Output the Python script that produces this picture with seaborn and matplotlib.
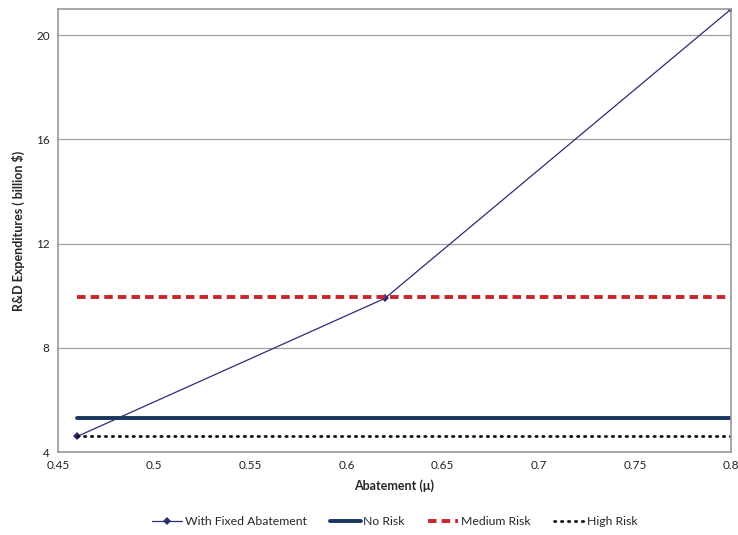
import matplotlib
matplotlib.use("Agg")
import matplotlib.pyplot as plt
import seaborn as sns
import pandas as pd

abatement = [0.46, 0.62, 0.80]
fixed_abatement = [4.6, 9.9, 21.0]
no_risk = [5.3, 5.3, 5.3]
medium_risk = [9.95, 9.95, 9.95]
high_risk = [4.6, 4.6, 4.6]
series_names = ["With Fixed Abatement", "No Risk", "Medium Risk", "High Risk"]

sns.set_style("white")
plt.rcParams['font.family'] = ['Lato', 'DejaVu Sans']

df = pd.DataFrame({
    "x": abatement * 4,
    "y": fixed_abatement + no_risk + medium_risk + high_risk,
    "series": sum([[n] * len(abatement) for n in series_names], []),
})

fig = plt.figure(figsize=(7.38, 5.35), dpi=100)
ax = fig.add_axes([0.0786, 0.155, 0.912, 0.828])

styles = {
    "With Fixed Abatement": dict(color="#2E2A7A", lw=0.9, ls="-", marker="D", ms=4.2, mew=0),
    "No Risk": dict(color="#17375E", lw=2.8, ls="-"),
    "Medium Risk": dict(color="#C9252C", lw=2.8, ls=(0, (2.2, 1.3))),
    "High Risk": dict(color="#111111", lw=2.0, ls=(0, (0.5, 2.0)), dash_capstyle="round"),
}
for name in series_names:
    sub = df[df.series == name]
    st = dict(styles[name])
    sns.lineplot(data=sub, x="x", y="y", ax=ax, label=name, estimator=None,
                 sort=False, **st)

ax.set_xlim(0.45, 0.8)
ax.set_ylim(4, 21)
ax.set_xticks([0.45, 0.5, 0.55, 0.6, 0.65, 0.7, 0.75, 0.8])
ax.set_xticklabels(["0.45", "0.5", "0.55", "0.6", "0.65", "0.7", "0.75", "0.8"])
ax.set_yticks([4, 8, 12, 16, 20])
ax.yaxis.grid(True, color="#A0A0A0", lw=0.9)
ax.set_axisbelow(True)
for s in ax.spines.values():
    s.set_color("#9A9A9A")
    s.set_linewidth(1.2)
ax.tick_params(axis="both", labelsize=8.5, length=0, pad=6, colors="#222222")
ax.set_xlabel("Abatement (μ)", fontsize=9, fontweight="bold", labelpad=6)
ax.set_ylabel("R&D Expenditures ( billion $)", fontsize=9, fontweight="bold", labelpad=8)

ax.legend(loc="upper center", bbox_to_anchor=(0.5, -0.12), ncol=4, frameon=False,
          fontsize=8.8, handlelength=2.5, columnspacing=1.9, handletextpad=0.2)

fig.savefig("out.png", dpi=100)
